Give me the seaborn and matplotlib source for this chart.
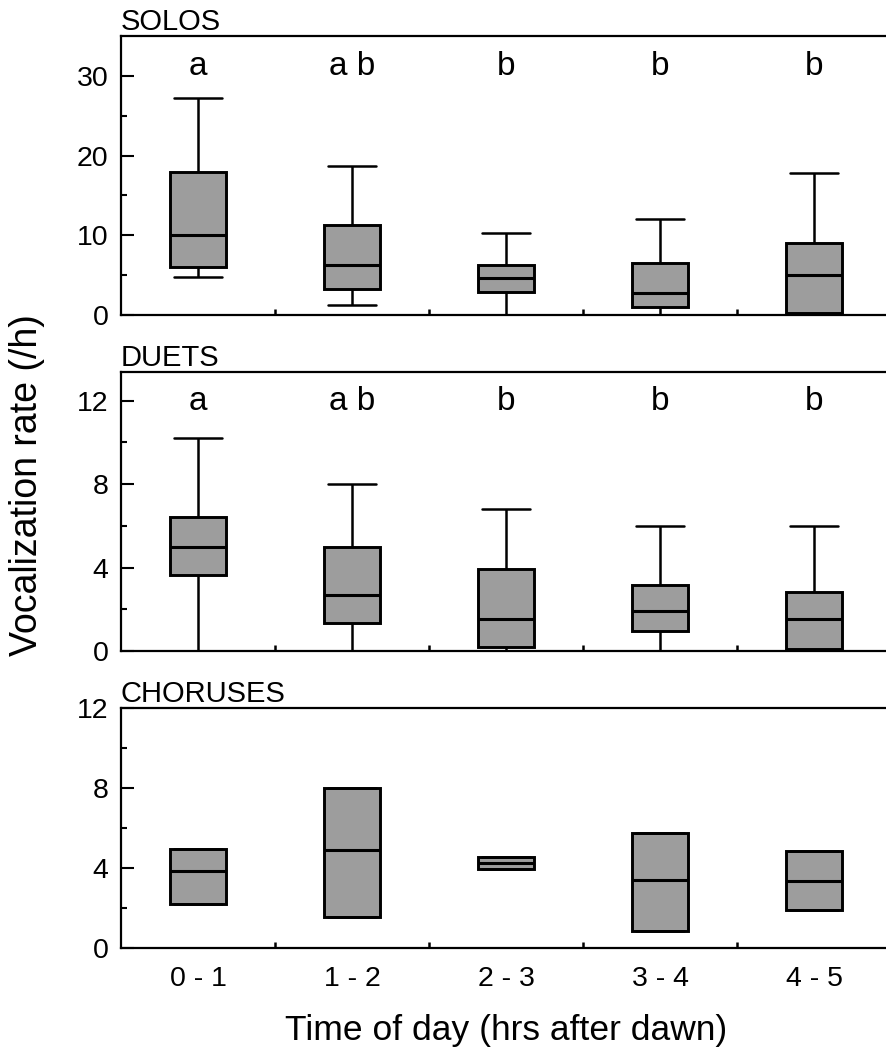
import numpy as np
import pandas as pd
import matplotlib
matplotlib.use("Agg")
import matplotlib.pyplot as plt
import seaborn as sns
from matplotlib.ticker import FixedLocator

# ---------------- data ----------------
categories = ["0 - 1", "1 - 2", "2 - 3", "3 - 4", "4 - 5"]

solos_low = [4.8, 1.25, 0.0, 0.0, 0.0]
solos_q1 = [6.0, 3.2, 2.9, 1.0, 0.2]
solos_med = [10.0, 6.3, 4.6, 2.7, 5.0]
solos_q3 = [17.9, 11.3, 6.3, 6.5, 9.0]
solos_high = [27.2, 18.7, 10.3, 12.0, 17.8]
solos_letters = ["a", "a b", "b", "b", "b"]

duets_low = [0.0, 0.0, 0.0, 0.0, 0.0]
duets_q1 = [3.65, 1.35, 0.18, 0.95, 0.1]
duets_med = [5.0, 2.66, 1.55, 1.93, 1.55]
duets_q3 = [6.4, 5.0, 3.93, 3.15, 2.83]
duets_high = [10.2, 8.0, 6.8, 6.0, 6.0]
duets_letters = ["a", "a b", "b", "b", "b"]

choruses_q1 = [2.2, 1.55, 3.95, 0.83, 1.92]
choruses_med = [3.83, 4.9, 4.25, 3.42, 3.33]
choruses_q3 = [4.95, 8.0, 4.55, 5.74, 4.83]
choruses_low = choruses_q1    # no whiskers drawn
choruses_high = choruses_q3

panel_titles = ["SOLOS", "DUETS", "CHORUSES"]
y_major = [[0, 10, 20, 30], [0, 4, 8, 12], [0, 4, 8, 12]]
y_minor = [[5, 15, 25], [2, 6, 10], [2, 6, 10]]
y_top = [35.0, 13.37, 12.0]
letter_y = [30.1, 11.55]

x_label = "Time of day (hrs after dawn)"
y_label = "Vocalization rate (/h)"


def long_frame(low, q1, med, q3, high):
    rows = []
    for cat, a, b, c, d, e in zip(categories, low, q1, med, q3, high):
        for v in (a, b, c, d, e):
            rows.append({"time": cat, "rate": v})
    return pd.DataFrame(rows)


frames = [
    long_frame(solos_low, solos_q1, solos_med, solos_q3, solos_high),
    long_frame(duets_low, duets_q1, duets_med, duets_q3, duets_high),
    long_frame(choruses_low, choruses_q1, choruses_med, choruses_q3, choruses_high),
]
letters = [solos_letters, duets_letters, None]

# ---------------- style ----------------
sns.set_style("ticks")
plt.rcParams["font.family"] = ["Liberation Sans", "DejaVu Sans"]
plt.rcParams["axes.linewidth"] = 1.6
for key in ["text.color", "axes.labelcolor", "xtick.color", "ytick.color",
            "axes.edgecolor"]:
    plt.rcParams[key] = "black"

fig = plt.figure(figsize=(8.86, 10.55), dpi=100)
W, H = 886.0, 1055.0
left_px, right_px = 121, 891
panels_px = [(36, 315), (372, 651), (708, 948)]

box_w = 0.37
cap_w = 0.31
fill_col = "#9d9d9d"

axes = []
for i, (top, bot) in enumerate(panels_px):
    ax = fig.add_axes([left_px / W, 1 - bot / H, (right_px - left_px) / W, (bot - top) / H])
    axes.append(ax)
    sns.boxplot(
        data=frames[i], x="time", y="rate", order=categories,
        whis=(0, 100), width=box_w, color=fill_col, saturation=1,
        linecolor="black", linewidth=1.8, showfliers=False,
        medianprops={"linewidth": 2.2}, ax=ax,
    )
    # widen the whisker caps
    for ln in ax.lines:
        xd = np.asarray(ln.get_xdata(), dtype=float)
        yd = np.asarray(ln.get_ydata(), dtype=float)
        if len(xd) == 2 and yd[0] == yd[1]:
            length = abs(xd[1] - xd[0])
            if 0 < length < 0.8 * box_w:
                c = xd.mean()
                ln.set_xdata([c - cap_w / 2, c + cap_w / 2])
    for p in ax.patches:
        p.set_edgecolor("black")
        p.set_linewidth(2.1)

    ax.set_xlim(-0.5, 4.5)
    ax.set_ylim(0, y_top[i])
    ax.yaxis.set_major_locator(FixedLocator(y_major[i]))
    ax.yaxis.set_minor_locator(FixedLocator(y_minor[i]))
    ax.xaxis.set_minor_locator(FixedLocator([0.5, 1.5, 2.5, 3.5]))
    ax.tick_params(axis="y", which="major", direction="in", length=9, width=1.5,
                   labelsize=20.5, pad=9)
    ax.tick_params(axis="y", which="minor", direction="in", length=4, width=1.5)
    ax.tick_params(axis="x", which="major", length=0, labelsize=20.5, pad=13)
    ax.tick_params(axis="x", which="minor", direction="in", length=4, width=1.8)
    ax.set_xlabel("")
    ax.set_ylabel("")
    for s in ax.spines.values():
        s.set_linewidth(1.6)
        s.set_color("black")
    if i < 2:
        ax.tick_params(axis="x", which="major", labelbottom=False)
    ax.set_title(panel_titles[i], loc="left", fontsize=21, pad=4)
    if letters[i] is not None:
        for j, t in enumerate(letters[i]):
            ax.text(j, letter_y[i], t, ha="center", va="baseline", fontsize=24)

axes[-1].set_xlabel(x_label, fontsize=25.5, labelpad=16)
fig.text(27 / W, 1 - 485 / H, y_label, rotation=90, ha="center", va="center",
         fontsize=27)

fig.savefig("out.png", dpi=100)
